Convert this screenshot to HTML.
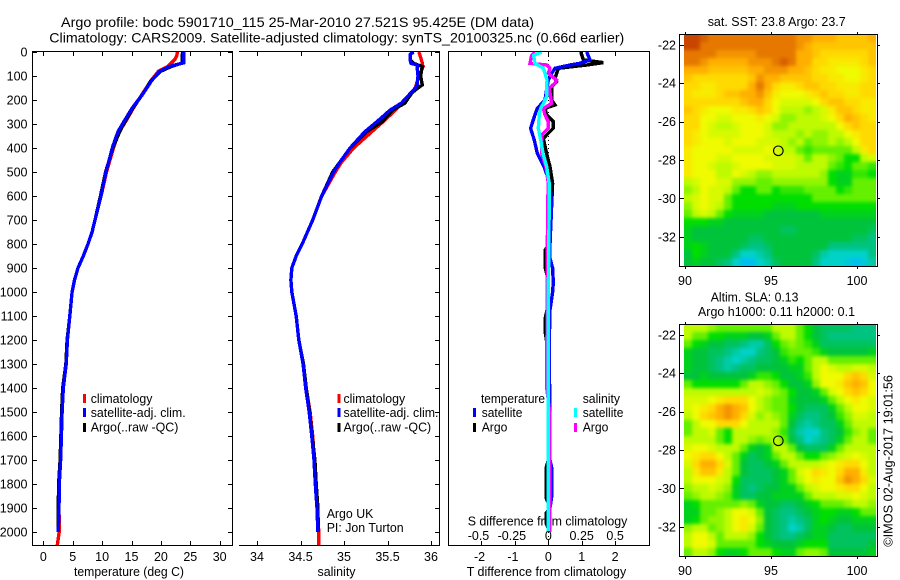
<!DOCTYPE html>
<html>
<head>
<meta charset="utf-8">
<title>Argo profile 5901710_115</title>
<style>
html,body{margin:0;padding:0;background:#fff;width:900px;height:580px;overflow:hidden}
svg{display:block}
text{font-family:"Liberation Sans",sans-serif;font-size:12.5px;fill:#000}
.t{font-size:14px}
</style>
</head>
<body>
<svg id="chart" xmlns="http://www.w3.org/2000/svg" width="900" height="580" viewBox="0 0 900 580">
<defs>
<filter id="smooth" x="-5%" y="-5%" width="110%" height="110%" color-interpolation-filters="sRGB">
<feGaussianBlur stdDeviation="1.9"/>
<feComponentTransfer><feFuncA type="linear" slope="20"/></feComponentTransfer>
</filter>
<clipPath id="clip-sst"><rect x="684" y="34" width="192" height="232"/></clipPath>
<clipPath id="clip-sla"><rect x="684" y="324" width="192" height="232"/></clipPath>
</defs>

<text class="t" x="61" y="27" textLength="473" lengthAdjust="spacingAndGlyphs">Argo profile: bodc 5901710_115 25-Mar-2010 27.521S 95.425E (DM data)</text>
<text class="t" x="49.3" y="42.5" textLength="575" lengthAdjust="spacingAndGlyphs">Climatology: CARS2009. Satellite-adjusted climatology: synTS_20100325.nc (0.66d earlier)</text>

<text x="74" y="576" textLength="110" lengthAdjust="spacingAndGlyphs">temperature (deg C)</text>
<text x="317.5" y="576" textLength="38" lengthAdjust="spacingAndGlyphs">salinity</text>
<text x="466.7" y="576" textLength="159.5" lengthAdjust="spacingAndGlyphs">T difference from climatology</text>
<text x="467.7" y="525.5" textLength="159.7" lengthAdjust="spacingAndGlyphs">S difference from climatology</text>

<g id="panels"></g>

<g>
<rect x="83" y="394" width="3" height="9" fill="#f00"/>
<text x="90.7" y="403" textLength="61.7" lengthAdjust="spacingAndGlyphs">climatology</text>
<rect x="83" y="408" width="3" height="9" fill="#00f"/>
<text x="90.7" y="417" textLength="95" lengthAdjust="spacingAndGlyphs">satellite-adj. clim.</text>
<rect x="83" y="423" width="3" height="9" fill="#000"/>
<text x="90.7" y="431.5" textLength="87.7" lengthAdjust="spacingAndGlyphs">Argo(..raw -QC)</text>
</g>

<g>
<rect x="337.5" y="394" width="3" height="9" fill="#f00"/>
<text x="343.5" y="403" textLength="61.7" lengthAdjust="spacingAndGlyphs">climatology</text>
<rect x="337.5" y="408" width="3" height="9" fill="#00f"/>
<text x="343.5" y="417" textLength="95" lengthAdjust="spacingAndGlyphs">satellite-adj. clim.</text>
<rect x="337.5" y="423" width="3" height="9" fill="#000"/>
<text x="343.5" y="431.5" textLength="87.7" lengthAdjust="spacingAndGlyphs">Argo(..raw -QC)</text>
</g>

<text x="326.7" y="518" textLength="46.7" lengthAdjust="spacingAndGlyphs">Argo UK</text>
<text x="326.7" y="532" textLength="77" lengthAdjust="spacingAndGlyphs">PI: Jon Turton</text>

<g>
<text x="481" y="403" textLength="64" lengthAdjust="spacingAndGlyphs">temperature</text>
<text x="582.7" y="403" textLength="37.3" lengthAdjust="spacingAndGlyphs">salinity</text>
<rect x="473" y="408" width="3" height="9" fill="#00f"/>
<text x="481.7" y="417" textLength="40.7" lengthAdjust="spacingAndGlyphs">satellite</text>
<rect x="473" y="423" width="3" height="9" fill="#000"/>
<text x="481.7" y="431.5" textLength="25.7" lengthAdjust="spacingAndGlyphs">Argo</text>
<rect x="574" y="408" width="3" height="9" fill="#0ff"/>
<text x="582.7" y="417" textLength="40.7" lengthAdjust="spacingAndGlyphs">satellite</text>
<rect x="574" y="423" width="3" height="9" fill="#f0f"/>
<text x="582.7" y="431.5" textLength="25.7" lengthAdjust="spacingAndGlyphs">Argo</text>
</g>

<text x="707.7" y="26" textLength="138" lengthAdjust="spacingAndGlyphs">sat. SST: 23.8 Argo: 23.7</text>
<text x="710.7" y="301.5" textLength="87.7" lengthAdjust="spacingAndGlyphs">Altim. SLA: 0.13</text>
<text x="698" y="316" textLength="157" lengthAdjust="spacingAndGlyphs">Argo h1000: 0.11 h2000: 0.1</text>
<text transform="translate(892.5,546.7) rotate(-90)" x="0" y="0" textLength="171.7" lengthAdjust="spacingAndGlyphs">©IMOS 02-Aug-2017 19:01:56</text>
</svg>

<script>
// ---- profile data ----
const depthTicks = [0,100,200,300,400,500,600,700,800,900,1000,1100,1200,1300,1400,1500,1600,1700,1800,1900,2000];
const tempTicks = [0,5,10,15,20,25,30];
const salTicks = ["34","34.5","35","35.5","36"];
const tDiffTicks = [-2,-1,0,1,2];
const sDiffTicks = ["-0.5","-0.25","0","0.25","0.5"];

const tempDepths = [0,15,30,45,60,80,120,172,234,290,332,394,500,603,700,750,800,850,900,950,1000,1100,1200,1300,1400,1500,1600,1700,1800,1900,2000,2054];
const tempClim = [22.8,22.7,22.4,21.8,21.2,19.6,18.3,16.9,15.3,14,12.9,12,10.75,9.8,8.8,8.3,7.6,6.8,5.9,5.3,4.9,4.5,4.1,3.9,3.4,3.2,3.07,2.95,2.72,2.67,2.7,2.38];
const tempArgo = [23.7,23.6,23.6,23.7,21.8,20,18.3,17,15.2,13.9,13,11.9,10.6,9.7,8.8,8.3,7.6,6.8,5.9,5.3,4.9,4.5,4.05,3.85,3.3,3.12,3,2.85,2.6,2.55,2.5,null];
const tempSat = [23.9,23.9,23.9,23.9,21.5,19.8,18.4,17,15.1,13.7,12.7,11.8,10.66,9.76,8.8,8.3,7.6,6.8,5.9,5.3,4.9,4.5,4.1,3.9,3.4,3.2,3.07,2.95,2.72,2.67,2.55,null];

const salDepths = [0,10,33,47,54,60,100,137,150,170,213,242,290,332,400,460,500,603,700,800,850,900,950,1000,1100,1200,1300,1400,1500,1600,1700,1800,1900,2000,2054];
const salClim = [35.86,35.87,35.89,35.9,35.9,35.91,35.86,35.83,35.82,35.77,35.66,35.59,35.45,35.32,35.11,34.97,34.9,34.74,34.64,34.52,34.45,34.4,34.39,34.4,34.45,34.48,34.53,34.565,34.61,34.64,34.66,34.67,34.69,34.71,34.71];
const salArgo = [35.8,35.76,35.76,35.8,35.85,35.9,35.88,35.9,35.85,35.78,35.7,35.56,35.44,35.26,35.07,34.95,34.87,34.74,34.64,34.52,34.45,34.4,34.39,34.4,34.45,34.48,34.535,34.565,34.605,34.635,34.665,34.68,34.7,34.705,null];
const salSat = [35.8,35.76,35.76,35.77,35.84,35.84,35.85,35.84,35.82,35.77,35.66,35.53,35.38,35.24,35.07,34.95,34.88,34.74,34.64,34.52,34.45,34.4,34.39,34.4,34.45,34.48,34.53,34.56,34.6,34.63,34.655,34.67,34.69,34.7,null];

const tArgoDepths = [0,33,44,54,68,89,110,124,144,200,221,235,262,290,318,346,360,422,478,547,644,800,825,900,950,1050,1108,1170,1250,1700,1730,1860,1880,1910,1920,1965,1985,2000];
const tArgoDiff = [0.97,1.05,1.65,1.15,0.3,0.25,0.2,0.25,0.1,0.1,0.2,-0.1,-0.05,0.15,0.15,-0.05,-0.15,-0.05,0.05,0.13,0.1,0.03,-0.09,-0.09,0,0,-0.09,-0.09,0,0,-0.06,-0.06,0,0,-0.06,-0.06,0,0];
const tSatDepths = [0,33,47,54,68,89,117,158,200,235,262,318,367,422,478,547,644,800,860,900,960,1000,1075,1200,1700,1730,1855,1900,2000];
const tSatDiff = [1.15,1.25,0.95,0.65,0.2,0.1,0,-0.05,-0.1,-0.33,-0.4,-0.53,-0.42,-0.33,-0.13,0.05,0.1,0.05,0.05,0.13,0.15,0.13,0.05,0.03,0.05,0.1,0.1,0.05,0.05];
const sArgoDepths = [0,14,47,54,68,89,117,130,151,186,214,235,262,290,318,346,422,478,547,644,1400,1450,1500,2000];
const sArgoDiff = [-0.1,-0.125,-0.137,-0.012,0.012,0,0.062,0.05,0.007,0.017,0.025,-0.037,-0.025,0,0,-0.05,-0.05,-0.017,0,-0.005,-0.012,0,0.01,0.012];
const sSatDepths = [0,14,47,68,89,117,151,186,214,235,262,318,367,422,478,547,644,1000,2000];
const sSatDiff = [-0.05,-0.11,-0.1,-0.037,-0.025,-0.01,-0.012,-0.012,-0.037,-0.057,-0.067,-0.075,-0.057,-0.04,-0.012,0.007,0.007,0,0];

// ---- map data (colour level per cell, north to south) ----
const mapLonTicks = [90,95,100];
const mapLatTicks = [-22,-24,-26,-28,-30,-32];
const argoLon = [95.425];
const argoLat = [-27.521];
const sstCells = [
[11,11,10.5,10,10,10,10,10,10,10,10,10,10,10,9.5,9.5,9,9,9,8.5,8.5,8.5,8.5,9],
[11,11,10,10,10,10,10,10,10,10,10,10,10,10,9.5,9,8.5,8.5,8.5,8.5,8.5,8.5,8.5,8.5],
[10,10,10,10,9.5,9.5,9.5,9.5,9.5,10,10,10,10,10,9,9,8.5,8,8,8,8,8,8,8.5],
[10,10,9.5,9,9,9,9,9,9.5,9.5,9.5,10,10.5,10,9,9,8,8,7.5,7.5,7.5,7.5,8,8.5],
[9,9,9,8.5,8.5,8.5,8.5,8.5,9,9,9.5,9.5,9.5,9,9,8.5,8,7.5,7.5,7,7,7,7.5,8],
[8.5,8,8,8,8,8,8,8,8.5,9.5,9,9,8.5,8.5,8.5,8.5,8,8,7.5,7.5,7,7,7.5,8],
[8,8,7.5,7.5,8,8,8,8,9,10,9,8,7.5,7.5,8,8.5,8.5,8,8,7.5,7.5,7.5,8,8],
[8,7.5,7.5,7.5,8,8.5,8.5,9,9,9.5,8.5,7.5,7,7,7,7.5,8,8.5,8,8,7.5,7.5,8,8],
[8,8,8,8,8,8,8,8.5,9,9,8,7,6.5,6.5,6.5,6.5,7,8,8.5,8.5,8,8,7.5,7.5],
[8.5,8,7.5,7,7,7,7.5,7.5,8,8.5,8,7,6,6,6,5.5,6,6.5,7.5,8.5,8.5,8,7.5,7.5],
[8,8,7,7,6.5,6.5,7,7,7,7.5,7,6.5,5.5,5.5,6,6,6,6.5,7,8,9,8.5,8,7.5],
[8,8,7,6.5,6,6,6.5,7,7,7,6.5,5.5,5.5,6,6,6,6,6,6,7,8,8.5,8,8],
[8,7.5,7,6.5,6.5,6.5,6.5,7,7,7,6.5,6,6,6,5.5,6,5.5,5.5,6,6,7,7.5,8,8],
[8,7.5,7,7,7,6.5,7,7,7,6.5,6.5,6.5,6,5.5,6,5,5.5,5.5,6,5.5,6,7,8,8],
[7.5,7,7,7,7,7,6.5,6.5,6.5,6.5,7,6.5,6,6,5,4.5,5,5,5,5,5,6,7.5,8],
[7.5,7,7,7,6.5,6.5,7,7,7,7,6.5,6.5,6.5,6.5,6,5,6,6,5.5,5,4,4,6,6.5],
[7.5,7,7,6.5,6,6,6.5,7,7,7,7,6.5,6.5,6.5,6,6,6,6,5,4.5,4,5,5,4.5],
[7.5,7,7,7,6,6,7,6.5,6,5.5,5.5,6,6,6,6,6,6,5.5,4,3.5,3.5,4.5,4.5,4],
[6,6.5,7,7,6.5,6.5,5.5,5.5,5.5,5,5,5.5,5.5,5.5,5.5,5.5,5.5,5.5,4,3.5,3.5,5,5,5],
[5.5,6,7,6.5,6.5,6,5,4,4,5,5,4,4.5,4.5,4.5,5,5,5,5,4,4.5,5,5,5],
[6,6.5,7,6.5,6.5,5,4,4,4,4,4,4,4,4,4,4,5,5,5,5,5,5,5,5],
[5.5,6.5,7,6.5,6,5,4,4,4,4,4,3.5,3.5,3.5,4,4,4,4,4,4,4,4,4,4],
[5,6,6.5,6,5,4,3.5,3.5,3.5,3.5,3,3,3,3,3,3,3,3.5,3.5,3.5,3.5,3.5,3.5,3.5],
[4,4,4,3.5,3.5,3,3,3,3,3,3,3,3,3,3,3,3,3,3,3,3,3,3,3],
[3.5,3,3,3,3,3,3,3,3,3,3,3,2.5,2.5,3,3,3,3,3,3,3,3,3,2.5],
[3.5,3,3,3,3,3,3,3,2.5,2.5,3,3,3,3,3,3,3,3,3,3,3,2.5,2.5,2],
[3.5,4,3.5,3,3,3,3,2.5,2,2,2.5,3,3,3,3,3,3,3,2,2,2,2,2,2],
[3,4,3.5,3,3,3,2,1,1,1.5,2,3,3,3,3,3,2.5,1.5,1,1,1,1,1,2],
[3,3.5,3,3,2.5,2,1,0,0,1,1.5,2.5,3,3,3,3,2,1,1,1,0.5,0,0.5,1.5]
];
const slaCells = [
[6,6,6,5.5,5,5,5,5,5,5,5,6,6,6,5,4,3,2.5,2.5,2.5,2.5,2,2,2],
[6,5,5,4,4,3.5,3.5,3.5,3,3,3.5,5,6,6,5,4,3,2.5,2,2,2,2,2,2],
[5,4,3.5,3,3,2.5,2.5,2,1.5,1.5,2.5,4,5,5.5,5,4.5,3.5,2.5,2.5,2.5,2.5,2.5,2.5,2.5],
[3.5,3,3,2.5,2.5,2,1.5,1,1,2,2.5,3,4.5,5,5,5,4.5,3.5,3,3,3,3,3,3.5],
[3.5,3,3,2.5,2,1.5,1,1.5,2,2.5,2.5,3,3.5,4.5,4,5,6,6,5,5,5,5,5,5],
[3.5,3,3,2.5,2,1.5,2,2.5,2.5,3,3,3,3,3.5,3.5,5,6,7,6.5,6,6,6.5,6.5,6],
[3,3,3.5,3,3,3,3,3,3.5,4.5,4.5,4,3,3,3.5,4.5,6,7,7,7,8,8.5,8,6.5],
[5,4,4,4,4,4,4,5,6,6,5.5,5,4,3,3,3.5,5.5,7,7,7.5,8.5,9,8.5,7],
[6,6,6,6,6,6,6,6,6,6.5,6,5.5,5,4,3,3,3.5,5,6.5,7,8,8.5,8,7],
[6.5,6.5,6.5,7,7.5,8,8,8,7,6,5.5,5,5,3.5,3,3,3,3.5,5,6,7,7.5,7,6.5],
[6.5,7,7.5,8,9,9.5,9,8.5,7,6,5.5,5,5,4,3,2.5,2.5,2.5,3.5,5,6,7,7,6.5],
[6,7,8,8.5,9,9.5,9,8,6.5,5.5,6,5.5,5,3.5,2.5,2,2,2.5,3,4.5,5.5,6.5,6.5,6],
[5,6,7,7,8,8,8,7,6,6,6,6,5,3,2,1.5,2,2.5,2.5,3.5,5,6,6,6],
[5,6,6,6.5,5,4,6,6,6,6,6,5.5,4.5,2.5,1.5,0.8,1,2,2.5,3,4.5,5.5,6,5],
[6,6,6,6,5,4,6,6,5.5,5,5.5,6,5,3,2,1,1.5,2,2.5,3.5,5,6,6,5],
[6.5,7,7,6.5,6,6,6,5,3.5,3,3.5,6,6,5,3,2.5,2.5,2.5,3.5,5,6,6,6,6],
[7,7.5,8,8,7,6,5,3.5,2.5,3,3.5,5,6,6,5,4,4,5,5.5,6,6.5,7,6.5,6],
[6.5,8,9,9,8,6.5,5,3,2.5,2.5,3,3.5,5,6,6,6,6,6.5,7,7.5,8,8,7,6],
[6,7.5,8.5,8.5,7.5,6,5,3,2.5,2.5,2.5,3,3.5,5,6.5,7,8,7.5,7,8,9,9,7.5,6],
[6,7,7,7,6.5,6,4,2.5,2.5,2.5,2.5,3,3.5,5,6,7,7.5,7,7,8.5,9.5,9,8,6.5],
[5.5,6,6,6.5,6,5.5,3.5,2.5,2,2.5,3,3,3.5,3.5,5,6,6.5,7,7,7.5,8,8,7,6],
[5,5.5,6,6,5.5,5,3.5,2.5,2.5,3,3,3.5,3.5,3.5,3.5,5,6,6,6,6.5,6.5,7,6.5,6],
[3.5,4,5,5,5,5,5,5.5,5,3.5,3,3,2.5,2.5,3,3.5,4,5,5,5,5.5,6,6,5.5],
[3.5,3.5,5,5,5.5,6,7,7,6.5,5,3,2.5,2,2,2.5,3,3.5,4,4,3.5,3.5,4,5,5],
[3.5,4,5,5.5,5.5,6,7,7.5,7,5.5,3,2.5,2,1.5,2,2.5,3.5,4,3.5,3,3,3.5,3.5,3.5],
[5.5,6,6,5,5.5,6,7,7.5,6.5,5,3,2.5,2,1,1.5,2.5,3.5,3.5,3,2.5,2.5,3,3,3],
[6,7,7,6,5,6,6,6,5.5,4,3,2.5,2,2,2.5,3,3.5,3.5,2.5,2.5,2.5,2.5,2.5,2.5],
[6,7,7,6.5,5,5,5,5,5,4,3.5,3,3,3,3.5,4,4,4,2.5,2.5,2.5,2.5,2.5,3],
[5,6,6,5.5,4,3.5,3.5,4,5,5,5,4,3.5,3.5,5,5.5,5.5,5,3,3,3,3,3,3.5]
];
const colorStops = [[0,190,240],[0,210,200],[0,195,130],[0,195,60],[0,222,0],[100,240,0],[190,250,0],[240,250,0],[255,218,0],[255,175,0],[230,120,0],[200,70,0]];

// ---- axis functions ----
const NS = 'http://www.w3.org/2000/svg';
const root = document.getElementById('panels');
const yDepth = d => 52 + d * 0.24;
const xTemp = t => 43.3 + t * 5.88;
const xSal = s => 257 + (s - 34) * 87;
const xTDiff = t => 548.3 + t * 33.4;
const xSDiff = s => 548.3 + s * 133.6;
const xLon = lon => 685 + (lon - 90) * 17.2;
const yLat = (lat, top) => top + 10.8 + (-22 - lat) * 19.2;

function make(tag, attrs, parent) {
  const el = document.createElementNS(NS, tag);
  for (const k in attrs) el.setAttribute(k, attrs[k]);
  (parent || root).appendChild(el);
  return el;
}
function hline(x1, x2, y, parent) {
  return make('line', {x1: x1, x2: x2, y1: y, y2: y, stroke: '#000', 'stroke-width': 1, 'shape-rendering': 'crispEdges'}, parent);
}
function vline(x, y1, y2, parent) {
  return make('line', {x1: x, x2: x, y1: y1, y2: y2, stroke: '#000', 'stroke-width': 1, 'shape-rendering': 'crispEdges'}, parent);
}
function label(txt, x, y, anchor, parent) {
  const el = make('text', {x: x, y: y, 'text-anchor': anchor}, parent);
  el.textContent = txt;
  return el;
}
function profile(depths, values, xFn, color, parent, width) {
  const pts = [];
  depths.forEach((d, i) => {
    if (values[i] !== null) pts.push(xFn(values[i]).toFixed(1) + ',' + yDepth(d).toFixed(1));
  });
  return make('polyline', {points: pts.join(' '), fill: 'none', stroke: color, 'stroke-width': width || 3.4, 'shape-rendering': 'crispEdges', 'stroke-linejoin': 'miter'}, parent);
}

// ---- temperature panel ----
const p1 = make('g', {});


const redT = profile(tempDepths, tempClim, xTemp, '#f00', p1);


const blackT = profile(tempDepths, tempArgo, xTemp, '#000', p1);


const blueT = profile(tempDepths, tempSat, xTemp, '#00f', p1);


hline(32, 233, 51.5, p1);
hline(32, 233, 545.5, p1);
vline(32.5, 51, 546, p1);
vline(232.5, 51, 546, p1);
depthTicks.forEach(d => {
  const y = Math.round(yDepth(d)) + 0.5;
  hline(33, 37, y, p1);
  hline(228, 232, y, p1);
  const lb = label(String(d), 27.5, yDepth(d) + 4.5, 'end', p1);
  
  
});
tempTicks.forEach(t => {
  const x = Math.round(xTemp(t)) + 0.5;
  vline(x, 52, 56, p1);
  vline(x, 541, 545, p1);
  const lb = label(String(t), xTemp(t), 561, 'middle', p1);
  
  
});

// ---- salinity panel ----
const p2 = make('g', {});


const redS = profile(salDepths, salClim, xSal, '#f00', p2);


const blackS = profile(salDepths, salArgo, xSal, '#000', p2);


const blueS = profile(salDepths, salSat, xSal, '#00f', p2);


hline(239, 440, 51.5, p2);
hline(239, 440, 545.5, p2);
vline(439.5, 51, 546, p2);
depthTicks.forEach(d => {
  hline(435, 439, Math.round(yDepth(d)) + 0.5, p2);
});
salTicks.forEach(s => {
  const x = Math.round(xSal(parseFloat(s))) + 0.5;
  vline(x, 52, 56, p2);
  vline(x, 541, 545, p2);
  const lb = label(s, xSal(parseFloat(s)), 561, 'middle', p2);
  
  
});

// ---- difference panel ----
const p3 = make('g', {});


const zero = make('line', {x1: xTDiff(0), x2: xTDiff(0), y1: 52, y2: 545, stroke: '#000', 'stroke-width': 1, 'stroke-dasharray': '1 3', 'shape-rendering': 'crispEdges'}, p3);


const blackDT = profile(tArgoDepths, tArgoDiff, xTDiff, '#000', p3);


const blueDT = profile(tSatDepths, tSatDiff, xTDiff, '#00f', p3);


const magDS = profile(sArgoDepths, sArgoDiff, xSDiff, '#f0f', p3);


const cyanDS = profile(sSatDepths, sSatDiff, xSDiff, '#0ff', p3);


hline(448, 650, 51.5, p3);
hline(448, 650, 545.5, p3);
vline(448.5, 51, 546, p3);
vline(649.5, 51, 546, p3);
tDiffTicks.forEach(t => {
  const x = Math.round(xTDiff(t)) + 0.5;
  vline(x, 52, 56, p3);
  vline(x, 541, 545, p3);
  const lb = label(String(t), xTDiff(t) - (t < 0 ? 2 : 0), 561, 'middle', p3);
  
  
});
sDiffTicks.forEach(s => {
  const lb = label(s, xSDiff(parseFloat(s)) - (parseFloat(s) < 0 ? 3 : 0), 540, 'middle', p3);
  
  
});

// ---- maps ----
function drawMap(cells, top, name, clipId) {
  const g = make('g', {});
  
  
  const clip = make('g', {'clip-path': 'url(#' + clipId + ')'}, g);
  const heat = make('g', {filter: 'url(#smooth)'}, clip);
  const lonStart = 89.942, dLon = 8 / 17.2, latStart = -21.4375, dLat = 8 / 19.2;
  cells.forEach((row, j) => {
    row.forEach((v, i) => {
      const lo = Math.floor(v), hi = Math.min(lo + 1, colorStops.length - 1), f = v - lo;
      const c = [0, 1, 2].map(k => Math.round(colorStops[lo][k] + (colorStops[hi][k] - colorStops[lo][k]) * f));
      const x = xLon(lonStart + i * dLon);
      const y = yLat(latStart - j * dLat, top);
      const cell = make('rect', {x: x, y: y, width: 8.2, height: 8.2, fill: 'rgb(' + c.join(',') + ')'}, heat);
      
      
    });
  });
  hline(679, 878, top + 0.5, g);
  hline(679, 878, top + 232.5, g);
  vline(679.5, top, top + 233, g);
  vline(877.5, top, top + 233, g);
  mapLatTicks.forEach(lat => {
    const y = Math.round(yLat(lat, top)) + 0.5;
    hline(680, 684, y, g);
    hline(878, 880, y, g);
    const lb = label(String(lat), 676, yLat(lat, top) + 4.5, 'end', g);
    
    
  });
  mapLonTicks.forEach(lon => {
    const x = Math.round(xLon(lon)) + 0.5;
    vline(x, top - 2, top, g);
    vline(x, top + 233, top + 235, g);
    const lb = label(String(lon), xLon(lon), top + 251, 'middle', g);
    
    
  });
  const mark = make('circle', {cx: xLon(argoLon[0]), cy: yLat(argoLat[0], top), r: 4.8, fill: 'none', stroke: '#000', 'stroke-width': 1.1}, g);
  
  
}
drawMap(sstCells, 34, 'sst-map', 'clip-sst');
drawMap(slaCells, 324, 'sla-map', 'clip-sla');
</script>
</body>
</html>
